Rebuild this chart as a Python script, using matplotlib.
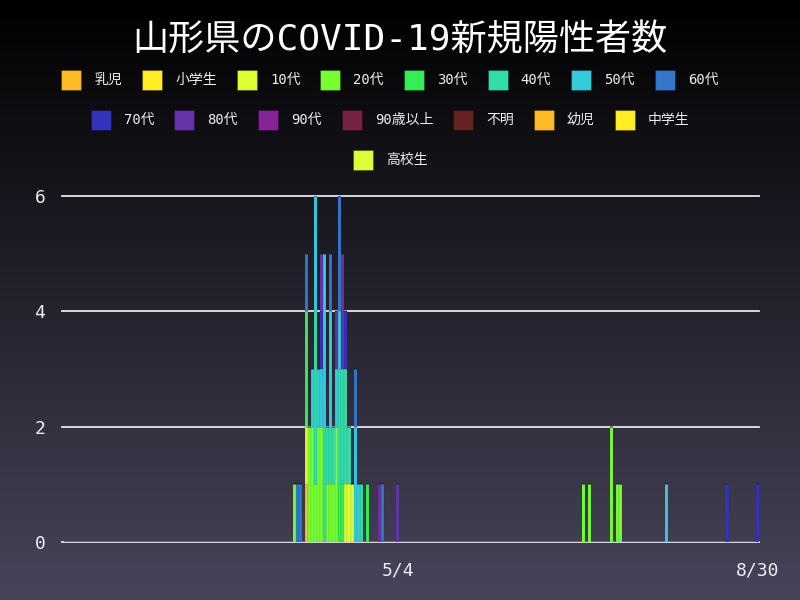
import numpy as np
import pandas as pd
import matplotlib
matplotlib.use('Agg')
import matplotlib.pyplot as plt
from matplotlib.patches import Rectangle

plt.rcParams['font.family'] = ['DejaVu Sans Mono', 'Noto Sans CJK JP']

# Data
first_day = '2020-01-16'
last_day = '2020-08-30'
tick_dates = ['5/4', '8/30']

case_dates = ['3/31', '4/1', '4/2', '4/4', '4/5', '4/6', '4/7', '4/8', '4/9', '4/10',
              '4/11', '4/12', '4/13', '4/14', '4/15', '4/16', '4/17', '4/18', '4/19', '4/20',
              '4/21', '4/22', '4/24', '4/28', '4/29', '5/4', '7/4', '7/6', '7/13', '7/15',
              '7/16', '7/31', '8/20', '8/30']

categories = ['乳児', '小学生', '10代', '20代', '30代', '40代', '50代', '60代',
              '70代', '80代', '90代', '90歳以上', '不明', '幼児', '中学生', '高校生']
colors = ['#ffbb22', '#ffee22', '#ddff33', '#77ff33', '#33ee55', '#33ddaa', '#33ccdd', '#3377cc',
          '#3333bb', '#6633aa', '#882299', '#772244', '#662222', '#ffbb22', '#ffee22', '#ddff33']

#            3/31 4/1 4/2 4/4 4/5 4/6 4/7 4/8 4/9 4/10 4/11 4/12 4/13 4/14 4/15 4/16 4/17 4/18 4/19 4/20 4/21 4/22 4/24 4/28 4/29 5/4 7/4 7/6 7/13 7/15 7/16 7/31 8/20 8/30
infant     = [0, 0, 0, 1, 0, 0, 0, 0, 0, 0, 0, 0, 0, 0, 0, 0, 0, 0, 0, 0, 0, 0, 0, 0, 0, 0, 0, 0, 0, 0, 0, 0, 0, 0]
elementary = [0, 0, 0, 1, 0, 0, 0, 0, 0, 0, 0, 0, 0, 0, 0, 0, 0, 0, 0, 0, 0, 0, 0, 0, 0, 0, 0, 0, 0, 0, 0, 0, 0, 0]
age10      = [0, 0, 0, 0, 0, 0, 0, 0, 0, 0, 0, 0, 0, 0, 0, 0, 1, 1, 1, 0, 0, 0, 0, 0, 0, 0, 0, 0, 0, 0, 0, 0, 0, 0]
age20      = [1, 0, 0, 0, 2, 2, 1, 2, 2, 0, 1, 1, 1, 2, 0, 0, 0, 0, 0, 0, 0, 0, 0, 0, 0, 0, 1, 1, 2, 1, 1, 0, 0, 0]
age30      = [0, 0, 0, 2, 0, 0, 0, 0, 0, 0, 0, 0, 0, 0, 1, 1, 0, 0, 0, 0, 0, 0, 1, 0, 0, 0, 0, 0, 0, 0, 0, 0, 0, 0]
age40      = [0, 0, 0, 0, 0, 0, 3, 0, 0, 2, 1, 1, 1, 0, 2, 2, 2, 1, 0, 0, 0, 1, 0, 0, 0, 0, 0, 0, 0, 0, 0, 0, 0, 0]
age50      = [0, 0, 0, 0, 0, 1, 2, 1, 1, 3, 0, 2, 0, 1, 1, 0, 0, 0, 0, 2, 1, 0, 0, 0, 0, 0, 0, 0, 0, 0, 0, 1, 0, 0]
age60      = [0, 1, 1, 1, 0, 0, 0, 0, 0, 0, 0, 1, 0, 0, 2, 0, 0, 0, 0, 1, 0, 0, 0, 0, 1, 0, 0, 0, 0, 0, 0, 0, 0, 0]
age70      = [0, 0, 0, 0, 0, 0, 0, 0, 1, 0, 0, 0, 0, 0, 0, 0, 1, 0, 0, 0, 0, 0, 0, 0, 0, 0, 0, 0, 0, 0, 0, 0, 1, 1]
age80      = [0, 0, 0, 0, 0, 0, 0, 0, 1, 0, 0, 0, 0, 1, 0, 2, 0, 0, 0, 0, 0, 0, 0, 1, 0, 1, 0, 0, 0, 0, 0, 0, 0, 0]
age90      = [0, 0, 0, 0, 0, 0, 0, 0, 0, 0, 0, 0, 0, 0, 0, 0, 0, 0, 0, 0, 0, 0, 0, 0, 0, 0, 0, 0, 0, 0, 0, 0, 0, 0]
over90     = [0, 0, 0, 0, 0, 0, 0, 0, 0, 0, 0, 0, 0, 0, 0, 0, 0, 0, 0, 0, 0, 0, 0, 0, 0, 0, 0, 0, 0, 0, 0, 0, 0, 0]
unknown    = [0, 0, 0, 0, 0, 0, 0, 0, 0, 0, 0, 0, 0, 0, 0, 0, 0, 0, 0, 0, 0, 0, 0, 0, 0, 0, 0, 0, 0, 0, 0, 0, 0, 0]
preschool  = [0, 0, 0, 0, 0, 0, 0, 0, 0, 0, 0, 0, 0, 0, 0, 0, 0, 0, 0, 0, 0, 0, 0, 0, 0, 0, 0, 0, 0, 0, 0, 0, 0, 0]
junior     = [0, 0, 0, 0, 0, 0, 0, 0, 0, 0, 0, 0, 0, 0, 0, 0, 0, 0, 0, 0, 0, 0, 0, 0, 0, 0, 0, 0, 0, 0, 0, 0, 0, 0]
highschool = [0, 0, 0, 0, 0, 0, 0, 0, 0, 0, 0, 0, 0, 0, 0, 0, 0, 0, 0, 0, 0, 0, 0, 0, 0, 0, 0, 0, 0, 0, 0, 0, 0, 0]

series = [infant, elementary, age10, age20, age30, age40, age50, age60,
          age70, age80, age90, over90, unknown, preschool, junior, highschool]

# Expand to one value per day
days = pd.date_range(first_day, last_day, freq='D')
day_labels = ['%d/%d' % (d.month, d.day) for d in days]
pos = {lab: i for i, lab in enumerate(day_labels)}
n_days = len(days)

W, H = 800, 600
fig = plt.figure(figsize=(8, 6), dpi=100)

# background gradient
bg = fig.add_axes([0, 0, 1, 1], zorder=-10)
bg.axis('off')
t = np.linspace(0, 1, 256)[:, None]
top = np.array([0, 0, 0]) / 255.0
bottom = np.array([72, 68, 90]) / 255.0
grad = (top + (bottom - top) * t).reshape(256, 1, 3)
bg.imshow(grad, aspect='auto', extent=[0, 1, 0, 1])

ax = fig.add_axes([62 / W, 1 - 542 / H, (759 - 62) / W, (542 - 196) / H])
ax.patch.set_alpha(0)

x = np.arange(n_days)
base = np.zeros(n_days)
for name, col, vals in zip(categories, colors, series):
    daily = np.zeros(n_days)
    for d, v in zip(case_dates, vals):
        daily[pos[d]] = v
    ax.bar(x, daily, bottom=base, width=1.0, color=col,
           edgecolor='#1a1a2a38', linewidth=0.3)
    base += daily

ax.set_xlim(-1.15, n_days - 0.5)
ax.set_ylim(0, 6)
ax.set_yticks([0, 2, 4, 6])
ax.set_xticks([pos[d] for d in tick_dates])
ax.set_xticklabels(tick_dates)
ax.yaxis.grid(True, color='#e6e6e6', linewidth=1.3)
for gl in ax.get_ygridlines():
    gl.set_clip_on(False)
ax.set_axisbelow(True)
for s in ax.spines.values():
    s.set_visible(False)
ax.tick_params(axis='both', length=0, colors='#eeeeee', labelsize=13)
ax.tick_params(axis='y', pad=12)
ax.tick_params(axis='x', pad=14)

# title
fig.text(0.5, 1 - 40 / H, '山形県のCOVID-19新規陽性者数', color='white',
         fontsize=26, ha='center', va='center')

# legend, centered rows like the original
rows = [list(range(0, 8)), list(range(8, 15)), [15]]
row_y = [80, 120, 160]
renderer = fig.canvas.get_renderer()
box = 20
gap_in, gap_out = 13, 20
for items, ry in zip(rows, row_y):
    texts = []
    for k in items:
        txt = fig.text(0, 1 - ry / H, categories[k], color='#eeeeee',
                       fontsize=10, ha='left', va='center')
        texts.append(txt)
    widths = [txt.get_window_extent(renderer).width for txt in texts]
    total = sum(box + gap_in + w + gap_out for w in widths)
    xs = W / 2 - total / 2
    for k, txt, w in zip(items, texts, widths):
        fig.patches.append(Rectangle((xs / W, 1 - (ry + box / 2) / H), box / W, box / H,
                                     transform=fig.transFigure, facecolor=colors[k],
                                     edgecolor='#00000040', linewidth=0.8))
        txt.set_x((xs + box + gap_in) / W)
        xs += box + gap_in + w + gap_out

fig.savefig('out.png', dpi=100)
